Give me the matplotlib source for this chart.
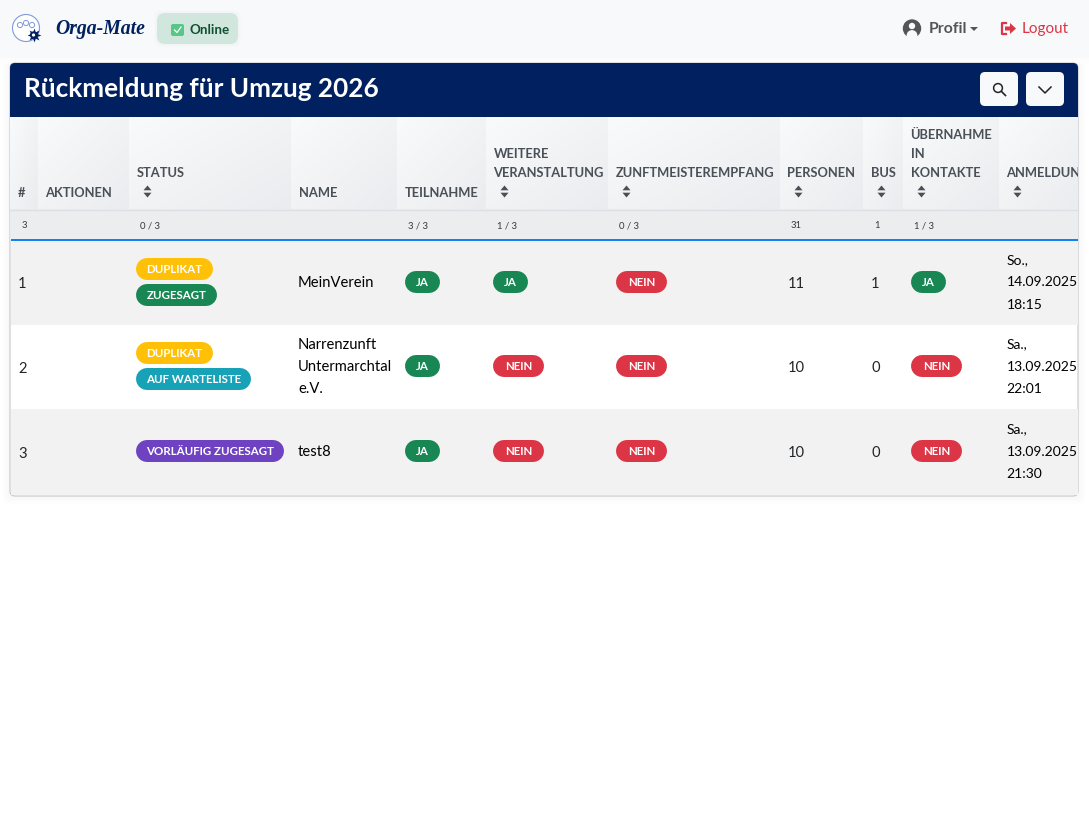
import numpy as np
import matplotlib
matplotlib.use('Agg')
import matplotlib.pyplot as plt
from matplotlib.patches import FancyBboxPatch, Rectangle, Circle, Polygon

plt.rcParams['font.family'] = ['Lato', 'DejaVu Sans']

# table content
title = 'Rückmeldung für Umzug 2026'
headers = [['#'], ['AKTIONEN'], ['STATUS'], ['NAME'], ['TEILNAHME'], ['WEITERE', 'VERANSTALTUNG'],
           ['ZUNFTMEISTEREMPFANG'], ['PERSONEN'], ['BUS'], ['ÜBERNAHME', 'IN', 'KONTAKTE'], ['ANMELDUNG']]
sortable = [False, False, True, False, False, True, True, True, True, True, True]
summary = ['3', '', '0 / 3', '', '3 / 3', '1 / 3', '0 / 3', '31', '1', '1 / 3', '']
numbers = ['1', '2', '3']
status = [['DUPLIKAT', 'ZUGESAGT'], ['DUPLIKAT', 'AUF WARTELISTE'], ['VORLÄUFIG ZUGESAGT']]
names = [['MeinVerein'], ['Narrenzunft', 'Untermarchtal', 'e.V.'], ['test8']]
teilnahme = ['JA', 'JA', 'JA']
weitere = ['JA', 'NEIN', 'NEIN']
zunft = ['NEIN', 'NEIN', 'NEIN']
personen = [11, 10, 10]
bus = [1, 0, 0]
kontakte = ['JA', 'NEIN', 'NEIN']
anmeldung = [['So.,', '14.09.2025', '18:15'], ['Sa.,', '13.09.2025', '22:01'], ['Sa.,', '13.09.2025', '21:30']]

# layout in pixels
col_edges = [10, 38, 129, 291, 397, 486, 608, 780, 863, 903, 999, 1078]
row_edges = [241, 325, 409, 495]
pad = 7.5
pill_colors = {'DUPLIKAT': '#ffc107', 'ZUGESAGT': '#198754', 'AUF WARTELISTE': '#17a2b8',
               'VORLÄUFIG ZUGESAGT': '#6f42c1', 'JA': '#198754', 'NEIN': '#dc3545'}
pill_widths = {'DUPLIKAT': 77, 'ZUGESAGT': 81, 'AUF WARTELISTE': 115, 'VORLÄUFIG ZUGESAGT': 148,
               'JA': 35, 'NEIN': 51}

fig = plt.figure(figsize=(10.89, 8.17), dpi=100)
ax = fig.add_axes([0, 0, 1, 1])
ax.set_xlim(0, 1089)
ax.set_ylim(817, 0)
ax.axis('off')


def box(x0, y0, x1, y1, r, color, z=2, **kw):
    p = FancyBboxPatch((x0 + r, y0 + r), x1 - x0 - 2 * r, y1 - y0 - 2 * r, boxstyle=f'round,pad={r},rounding_size={r}',
                       fc=color, ec=kw.pop('ec', 'none'), lw=kw.pop('lw', 0), zorder=z, **kw)
    ax.add_patch(p)
    return p


def pill(x, yc, label):
    w = pill_widths[label]
    # thick line with round caps, 22 px high
    ax.plot([x + 11, x + w - 11], [yc, yc], color=pill_colors[label], lw=22 * 0.72, solid_capstyle='round', zorder=4)
    ax.text(x + w / 2, yc + 4, label, fontsize=8.3, fontweight='bold', color='white', ha='center', va='baseline', zorder=5)


def sort_icon(x, yc):
    ax.add_patch(Polygon([(x - 4, yc - 1.2), (x + 4, yc - 1.2), (x, yc - 6)], fc='#495057', ec='none', zorder=5))
    ax.add_patch(Polygon([(x - 4, yc + 1.2), (x + 4, yc + 1.2), (x, yc + 6)], fc='#495057', ec='none', zorder=5))


# navbar
ax.add_patch(Rectangle((0, 0), 1089, 58, fc='#f8f9fa', ec='none', zorder=1))
for i in range(8):
    ax.add_patch(Rectangle((0, 58 + i), 1089, 1, fc='#000000', alpha=0.012 * (8 - i) / 8, ec='none', zorder=1))

ax.add_patch(Circle((26, 28), 13.5, fc='white', ec='#7f9bd8', lw=0.8, zorder=3))
for cx, cy in [(20, 25), (26, 23), (32, 25)]:
    ax.add_patch(Circle((cx, cy), 2.6, fc='none', ec='#7f9bd8', lw=0.7, zorder=4))
ax.plot([33.5], [35], marker=(8, 1, 0), ms=10, color='#00205f', mew=0, zorder=5)
ax.add_patch(Circle((33.5, 35), 3.6, fc='#00205f', ec='none', zorder=5))
ax.add_patch(Circle((33.5, 35), 1.6, fc='white', ec='none', zorder=6))
ax.text(55.5, 29, 'Orga-Mate', family=['Liberation Serif'], style='italic', fontweight='bold', fontsize=14.2,
        color='#00205f', va='center', ha='left', zorder=4)

for i in range(3, 0, -1):
    box(157 - i, 13 - i, 238 + i, 44 + i, 8, '#000000', z=2.5, alpha=0.008)
box(157, 13, 238, 44, 8, '#d1e7dd', z=3)
box(171, 24, 184, 36, 2, '#57c785', z=4)
ax.plot([174.5, 177, 181], [30, 32.5, 27], color='white', lw=0.9, zorder=5)
ax.text(189, 29.5, 'Online', fontsize=9.6, fontweight='bold', color='#0f5132', va='center', zorder=5)

ax.add_patch(Circle((912, 28.5), 9.2, fc='#555555', ec='none', zorder=4))
ax.add_patch(Circle((912, 26), 3.2, fc='#f8f9fa', ec='none', zorder=5))
ax.add_patch(Circle((912, 35.5), 5.4, fc='#f8f9fa', ec='none', zorder=5))
ax.text(929, 29, 'Profil', fontsize=11.3, fontweight='bold', color='#555555', va='center', zorder=5)
ax.add_patch(Polygon([(970, 27), (978, 27), (974, 31)], fc='#555555', ec='none', zorder=5))
ax.plot([1006, 1002, 1002, 1006], [23, 23, 34, 34], color='#dc3545', lw=1.6, zorder=5)
ax.add_patch(Polygon([(1005, 26.5), (1010, 26.5), (1010, 23), (1016, 28.5), (1010, 34), (1010, 30.5), (1005, 30.5)],
                     fc='#dc3545', ec='none', zorder=5))
ax.text(1022, 29, 'Logout', fontsize=11, color='#dc3545', va='center', zorder=5)

# card with soft shadow
for i in range(8, 0, -1):
    box(10 - i, 63, 1078 + i, 496 + i, 5, '#000000', z=1.5, alpha=0.004)
card = box(10, 63, 1078, 496, 5, 'white', z=2, ec='#c6c8cc', lw=0.8)
box(10, 63, 1078, 100, 5, '#00205f', z=2.5)
ax.add_patch(Rectangle((10, 80), 1068, 36.5, fc='#00205f', ec='none', zorder=2.5))
ax.text(24.5, 88.5, title, fontsize=18.8, fontweight='bold', color='white', va='center', zorder=4)

box(980, 72, 1018, 106, 5, '#f8f9fa', z=4)
box(1026, 72, 1064, 106, 5, '#f8f9fa', z=4)
ax.add_patch(Circle((998, 88), 4.4, fc='none', ec='#212529', lw=1.1, zorder=5))
ax.plot([1001.5, 1005.5], [91.5, 95.5], color='#212529', lw=1.2, zorder=5)
ax.plot([1039, 1045, 1051], [87, 93, 87], color='#212529', lw=1.1, zorder=5)

# header cells with a light diagonal gradient
gy, gx = np.mgrid[0:1:40j, 0:1:40j]
head_clip = Rectangle((10, 117), 1068, 123, transform=ax.transData)
for i in range(len(headers)):
    x0, x1 = col_edges[i], col_edges[i + 1]
    ax.imshow((gx + gy) / 2, extent=(x0, x1, 209, 117), cmap=matplotlib.colors.LinearSegmentedColormap.from_list(
        'h', ['#f9fafb', '#eaecef']), vmin=0, vmax=1, aspect='auto', zorder=3, interpolation='bilinear')
    tx = x0 + pad
    lines = headers[i]
    bottom = 177 if sortable[i] else 196.5
    for j, line in enumerate(lines):
        y = bottom - 19 * (len(lines) - 1 - j)
        t = ax.text(tx, y, line, fontsize=9.3, fontweight='bold', color='#495057', va='baseline', zorder=5, clip_on=True)
        t.set_clip_path(head_clip)
    if sortable[i]:
        sort_icon(tx + 11, 191.5)

# summary row
ax.add_patch(Rectangle((10, 209), 1068, 31, fc='#ecedef', ec='none', zorder=3))
ax.plot([10, 1078], [209.5, 209.5], color='#dcdfe3', lw=1, zorder=4)
ax.plot([11, 1078], [240, 240], color='#0d7ef0', lw=1.4, solid_capstyle='butt', zorder=5)
for i, s in enumerate(summary):
    if s:
        ax.text(col_edges[i] + (12 if i == 0 else 11), 228, s, fontsize=6.8, color='#343a40', va='baseline', zorder=5)

# body rows
pill_gap = 26.7
for r in range(3):
    y0, y1 = row_edges[r], row_edges[r + 1]
    yc = (y0 + y1) / 2
    if r != 1:
        ax.add_patch(Rectangle((10.5, y0), 1067, y1 - y0, fc='#f2f2f2', ec='none', zorder=3))
    ax.text(18, yc + 5.5, numbers[r], fontsize=10.6, color='#212529', va='baseline', zorder=5)

    n = len(status[r])
    for k, label in enumerate(status[r]):
        pill(136, yc - 1 + (k - (n - 1) / 2) * pill_gap, label)

    for k, line in enumerate(names[r]):
        ax.text(298, yc + 4 + (k - (len(names[r]) - 1) / 2) * 22, line, fontsize=10.6, color='black', va='baseline', zorder=5)

    pill(405, yc - 1, teilnahme[r])
    pill(493, yc - 1, weitere[r])
    pill(616, yc - 1, zunft[r])
    ax.text(788, yc + 4.5, str(personen[r]), fontsize=10.6, color='#212529', va='baseline', zorder=5)
    ax.text(871, yc + 4.5, str(bus[r]), fontsize=10.6, color='#212529', va='baseline', zorder=5)
    pill(911, yc - 1, kontakte[r])
    for k, line in enumerate(anmeldung[r]):
        ax.text(1006.5, yc + 3.5 + (k - 1) * 22, line, fontsize=10, color='black', va='baseline', zorder=5)

fig.savefig('out.png', dpi=100)
